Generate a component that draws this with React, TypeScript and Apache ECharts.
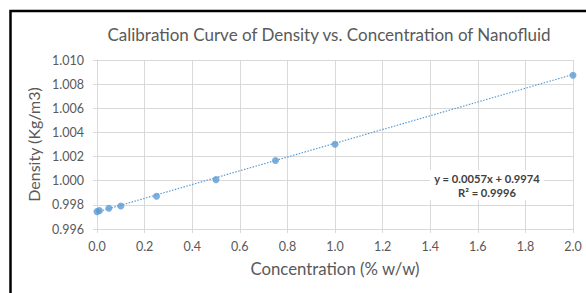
import React, { useEffect, useRef } from "react";
import * as echarts from "echarts";

const concentration = [0, 0.01, 0.05, 0.1, 0.25, 0.5, 0.75, 1.0, 2.0];
const density = [0.99744, 0.99752, 0.99772, 0.99791, 0.99871, 1.00009, 1.00168, 1.00302, 1.00873];
const slope = 0.0057;
const intercept = 0.9974;
const trendX = [0, 2];
const xTicks = { min: 0, max: 2, interval: 0.2 };
const yTicks = { min: 0.996, max: 1.01, interval: 0.002 };

export default function App() {
  const ref = useRef<HTMLDivElement>(null);
  useEffect(() => {
    const chart = echarts.init(ref.current!, null, { renderer: "svg" });
    const font = "Lato";
    const grid = "#d9d9d9";
    const labelColor = "#595959";
    chart.setOption({
      animation: false,
      backgroundColor: "#ffffff",
      title: {
        text: "Calibration Curve of Density vs. Concentration of Nanofluid",
        left: 324,
        top: 21,
        textAlign: "center",
        textStyle: { fontFamily: font, fontSize: 17, fontWeight: "normal", color: labelColor },
      },
      grid: { left: 97, right: 13, top: 60, bottom: 64 },
      xAxis: {
        type: "value",
        min: xTicks.min,
        max: xTicks.max,
        interval: xTicks.interval,
        name: "Concentration (% w/w)",
        nameLocation: "middle",
        nameGap: 31,
        nameTextStyle: { fontFamily: font, fontSize: 16.8, color: labelColor },
        axisLine: { show: true, lineStyle: { color: grid } },
        axisTick: { show: true, length: 4, lineStyle: { color: grid } },
        axisLabel: {
          fontFamily: font,
          fontSize: 12.5,
          color: labelColor,
          margin: 11,
          formatter: (v: number) => v.toFixed(1),
        },
        splitLine: { show: true, lineStyle: { color: grid } },
      },
      yAxis: {
        type: "value",
        min: yTicks.min,
        max: yTicks.max,
        interval: yTicks.interval,
        name: "Density (Kg/m3)",
        nameLocation: "middle",
        nameGap: 51,
        nameTextStyle: { fontFamily: font, fontSize: 16, color: labelColor },
        axisLine: { show: true, lineStyle: { color: grid } },
        axisTick: { show: true, length: 4, lineStyle: { color: grid } },
        axisLabel: {
          fontFamily: font,
          fontSize: 12.5,
          color: labelColor,
          margin: 13,
          formatter: (v: number) => v.toFixed(3),
        },
        splitLine: { show: true, lineStyle: { color: grid } },
      },
      series: [
        {
          type: "line",
          data: trendX.map((x) => [x, slope * x + intercept]),
          showSymbol: false,
          symbol: "none",
          lineStyle: { color: "#5B9BD5", width: 1.2, type: [1.5, 1.5] },
          z: 2,
        },
        {
          type: "scatter",
          data: concentration.map((c, i) => [c, density[i]]),
          symbol: "circle",
          symbolSize: 7,
          itemStyle: { color: "#5B9BD5" },
          z: 3,
        },
      ],
      graphic: [
        {
          type: "rect",
          shape: { x: 10.5, y: 11, width: 600, height: 300 },
          style: { fill: "none", stroke: "#000000", lineWidth: 2.5 },
          z: 10,
        },
        {
          type: "rect",
          shape: { x: 430, y: 170, width: 114, height: 30 },
          style: { fill: "#ffffff" },
          z: 5,
        },
        {
          type: "text",
          x: 487,
          y: 178.5,
          style: {
            text: "y = 0.0057x + 0.9974",
            fontFamily: font,
            fontSize: 11.2,
            fontWeight: "bold",
            fill: "#404040",
            align: "center",
            verticalAlign: "middle",
          },
          z: 6,
        },
        {
          type: "text",
          x: 487,
          y: 192,
          style: {
            text: "R² = 0.9996",
            fontFamily: font,
            fontSize: 11.2,
            fontWeight: "bold",
            fill: "#404040",
            align: "center",
            verticalAlign: "middle",
          },
          z: 6,
        },
      ],
    });
    return () => chart.dispose();
  }, []);
  return (
    <div
      ref={ref}
      style={{ position: "absolute", left: 0, top: 0, width: 586, height: 293 }}
    />
  );
}
